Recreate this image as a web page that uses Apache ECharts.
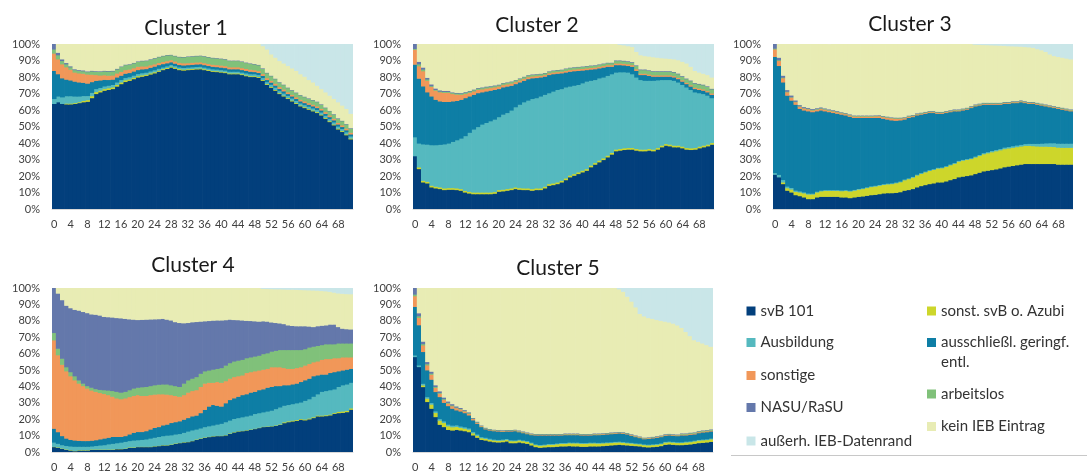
<!DOCTYPE html>
<html><head><meta charset="utf-8">
<script src="https://cdn.jsdelivr.net/npm/echarts@6/dist/echarts.min.js"></script>
<style>html,body{margin:0;padding:0;background:#fff}#c{width:1087px;height:475px}</style>
</head><body><div id="c"></div>
<script>
// ---- categories (months) and tick labels ----
const months = [0,1,2,3,4,5,6,7,8,9,10,11,12,13,14,15,16,17,18,19,20,21,22,23,24,25,26,27,28,29,30,31,32,33,34,35,
  36,37,38,39,40,41,42,43,44,45,46,47,48,49,50,51,52,53,54,55,56,57,58,59,60,61,62,63,64,65,66,67,68,69,70,71];
const yTicks = [0,10,20,30,40,50,60,70,80,90,100];
const clusterTitles = ['Cluster 1','Cluster 2','Cluster 3','Cluster 4','Cluster 5'];
const seriesNames = ['svB 101','sonst. svB o. Azubi','Ausbildung','ausschließl. geringf. entl.','sonstige','arbeitslos','NASU/RaSU','kein IEB Eintrag','außerh. IEB-Datenrand'];

// ---- Cluster 1 (shares in %) ----
const c1_svB = [64,65,64,63.7,63.7,64,64.5,65, 65.3,67.5,70,71,72,72.5,73,74.5, 76,77.3,78,79,80,80.5,81,81.8, 82.5,83.5,84.5,85.2,86,85.3,84.5,84.2,
  84.5,84.7,84.9,85,84.5,84,83.5,83.3, 83,82.7,82,82,82,81.5,80.8,80.3, 80.3,79.8,78,75.5,73.8,72,70,68.5, 67,65.5,64,62.5,61.5,60.5,59.5,58.5, 57,55,53,51,48.5,47,45,42.5];
const c1_sonst = [0,0,0,0.5,0.5,0.5,0.5,0.8, 1,1.2,1.2,1,1,1,1,1, 1,1,0.8,0.8,0.8,0.8,0.7,0.7, 0.7,0.6,0.6,0.6,0.6,0.6,0.6,0.6,
  0.5,0.5,0.5,0.5,0.5,0.5,0.5,0.5, 0.5,0.5,0.5,0.5,0.5,0.5,0.5,0.5, 0.5,0.5,0.5,0.5,0.5,0.5,0.5,0.5, 0.5,0.5,0.5,0.5,0.5,0.5,0.5,0.5, 0.5,0.5,0.5,0.5,0.5,0.5,0.5,0.5];
const c1_ausb = [3,3.5,4,4.5,4.5,4,3.5,3, 2.5,2,1.8,1.7,1.6,1.5,1.5,1.5, 1.5,1.4,1.4,1.3,1.3,1.3,1.2,1.2, 1.2,1.2,1,1,1,1,1,1,
  1,1,1,1,1,1,1,1, 1,1,1,1,1,1,1.2,1.2, 1.2,1.2,1.2,1.2,1.3,1.3,1.3,1.3, 1.3,1.3,1.3,1.3,1.3,1.3,1.3,1.3, 1.3,1.3,1.3,1.3,1.3,1.3,1.3,1.3];
const c1_ausschl = [17,13.5,11.5,10,9.5,9,8.5,8, 7.5,6.5,5,4.5,4,3.5,3.2,3, 2.6,2.6,2.5,2.5,2.4,2.3,2.2,2.2, 2.2,2.2,2,1.8,1.6,1.5,1.5,1.5,
  1.5,1.5,1.5,1.5,1.5,1.5,1.5,1.5, 1.5,1.5,1.5,1.5,1.5,1.5,1.5,1.5, 1.3,1.3,1.3,1.3,1.3,1.3,1.3,1.3, 1.2,1.2,1.2,1.2,1.2,1.2,1.2,1.2, 1.2,1.2,1.2,1.2,1.2,1.2,1.2,1.2];
const c1_sonstige = [10.5,9,8.5,7.5,6.5,5.5,5.5,5.5, 5.5,4.5,3.5,3,2.8,2.6,2.5,2.4, 2.3,2.2,2.1,2,2,1.8,1.6,1.5, 1.4,1.3,1.3,1.3,1.3,1.3,1.3,1.3,
  1.2,1.2,1.2,1.2,1.2,1.2,1.2,1.2, 1.2,1.2,1.2,1.2,1.2,1.2,1.2,1.2, 1.1,1.1,1.1,1.1,1.1,1.1,1.1,1.1, 1,1,1,1,1,1,1,1, 1,1,1,1,1,1,1,1];
const c1_arbeitslos = [2.5,2.5,2,1.8,1.5,1.5,1.5,1.5, 1.5,2,2,2.2,2.3,2.5,2.5,2.5, 3,3,3,3,3,3.2,3.3,3.4, 3.5,3.5,3.5,3.5,3,3.2,3.4,3.6,
  3.8,3.8,3.8,3.8,4,4,4,4, 4,4,3.8,3.8,3.8,3.8,3.6,3.6, 3.5,3.5,3.2,3,2.8,2.8,2.7,2.7, 2.6,2.6,2.6,2.6,2.6,2.6,2.6,2.6, 2.5,2.5,2.5,2.5,2.5,2.5,2.5,2.5];
const c1_nasu = [3,1.5,1,0.8,0.6,0.5,0.5,0.5, 0.4,0.4,0.4,0.4,0.4,0.4,0.4,0.4, 0.3,0.3,0.3,0.3,0.3,0.3,0.3,0.3, 0.3,0.3,0.3,0.3,0.3,0.3,0.3,0.3,
  0.3,0.3,0.3,0.3,0.3,0.3,0.3,0.3, 0.3,0.3,0.3,0.3,0.3,0.3,0.3,0.3, 0.3,0.3,0.3,0.3,0.3,0.3,0.3,0.3, 0.3,0.3,0.3,0.3,0.3,0.3,0.3,0.3, 0.3,0.3,0.3,0.3,0.3,0.3,0.3,0.3];
const c1_kein = [0,5,9,11.2,13.2,15,15.5,15.7, 16.3,15.9,16.1,16.2,15.9,16,15.9,14.7, 13.3,12.2,11.9,11.1,10.2,9.8,9.7,8.9, 8.2,7.4,6.8,6.3,6.2,6.8,7.4,7.5,
  7.2,7,6.8,6.7,7,7.5,8,8.2, 8.5,8.8,9.7,9.7,9.7,10.2,10.9,11.4, 11.8,12.3,13.4,14.1,12.9,12.7,12.8,12.8, 13.1,13.1,13.1,12.6,12.1,11.1,10.6,9.6, 9.2,9.2,9.2,9.2,9.7,9.2,9.2,8.7];
const c1_ausserh = [0,0,0,0,0,0,0,0, 0,0,0,0,0,0,0,0, 0,0,0,0,0,0,0,0, 0,0,0,0,0,0,0,0,
  0,0,0,0,0,0,0,0, 0,0,0,0,0,0,0,0, 0,0,1,3,6,8,10,11.5, 13,14.5,16,18,19.5,21.5,23,25, 27,29,31,33,35,37,39,42];

// ---- Cluster 2 ----
const c2_svB = [32.3,24.5,16.4,15.8,13.4,12.8,12.4,11.8, 12,12,11.8,11.4,10.3,9.7,9.3,9.3, 9.3,9.3,9.3,9.6,10.8,11,11.4,11.8, 12.4,12,11.8,11.8,11.4,11.8,11.8,12.8,
  14.4,14.8,15.4,16.4,17.8,19.5,20.5,21.5, 22.5,23.5,25.6,27.2,28.6,30,31.6,33.3, 35.3,35.7,36.1,36.3,36.3,35.7,35.3,35.3, 35.7,35.3,36.3,37.7,38.7,38.3,37.7,37.7, 37.1,36.3,36.1,36.3,37.1,37.7,38.3,39.3];
const c2_sonst = [0,1,1,1,1,1,1,1, 1,1,1,1,1,1,1,1, 1,1,1,1,1,1,1,1, 1,1,1,1,1,1,1,1,
  1,1,1,1,1,1,1,1, 1,1,1,1,1,1,1,1, 1,1,1,1,1,1,1,1, 1,1,1,1,1,1,1,1, 1,1,1,1,1,1,1,1];
const c2_ausb = [11.5,14.5,22.1,22.5,24.6,25.2,25.8,26.7, 27,28,29.2,30.6,33.2,35.8,38.2,39.7, 41.2,42.2,43.2,43.9,44.2,45.5,46.1,47.2, 48.6,50.5,52.2,53.2,54.6,54.7,55.7,55.7,
  55.1,55.7,56.1,55.6,55.2,54,53.5,53, 53,53,51.4,50.3,49.9,49,48.4,47.7, 46.7,46.5,46.1,45.7,44.7,43.3,42.2,41.7, 41.3,41.7,41,39.8,38.8,39.2,39.3,38.3, 37.4,36.7,35.4,33.7,32.4,31.3,29.7,27.2];
const c2_ausschl = [44,39.3,35.1,31.7,29.5,27.5,26.3,25.7, 25.2,24.5,23.8,23.5,23,22,21,20.5, 19.5,19,18.5,18,17,16.5,16,15, 14,13.5,13,13,12.5,12.2,11.5,11,
  11,10.5,9.8,9.5,9,9,8.8,8.5, 7.7,7,6.8,6.5,6,6,5.5,4.5, 4.5,4.3,4.1,4,4.5,4,3,3.5, 3,2.5,2.2,2,2,2,2,2, 2,2,2,2,2,2,2,2];
const c2_sonstige = [9,7.5,9.2,7,5.8,5.5,5.5,5.5, 5.5,4.5,3.8,3,2.5,2.2,2,2, 1.8,1.8,1.6,1.5,1.5,1.4,1.3,1.3, 1.2,1.2,1.2,1.2,1.1,1.1,1,1,
  1,1,1,1,1,1,1,1, 1,1,1,1,1,1,1,1, 1,1,1,1,1,1,0.8,0.8, 0.8,0.8,0.8,0.8,0.8,0.8,0.8,0.8, 0.8,0.8,0.8,0.8,0.8,0.8,0.8,0.8];
const c2_arbeitslos = [0.5,1.2,1,0.8,0.5,0.5,0.5,0.6, 0.6,0.6,0.7,0.7,0.8,0.8,0.8,0.8, 0.8,0.8,0.8,0.8,0.8,1,1,1, 1,1,1,1,1,1,1,1,
  1,1,1,1,1.2,1.2,1.2,1.2, 1.2,1.2,1.2,1.2,1.2,1.2,1.2,1.2, 1.5,1.5,1.5,1.5,1.5,2,2.2,2.2, 2.2,2.2,2.2,2.2,2.2,2.2,2.2,2.2, 2.2,2.2,2.5,2.5,2.5,2.5,2.5,2.5];
const c2_nasu = [2.7,1.5,1.2,1,1,0.8,0.7,0.6, 0.6,0.4,0.4,0.4,0.4,0.4,0.4,0.4, 0.4,0.4,0.4,0.4,0.4,0.3,0.3,0.3, 0.3,0.3,0.3,0.3,0.3,0.3,0.3,0.3,
  0.3,0.3,0.3,0.3,0.3,0.3,0.3,0.3, 0.3,0.3,0.3,0.3,0.3,0.3,0.3,0.3, 0.4,0.4,0.4,0.4,0.4,0.4,0.4,0.4, 0.4,0.4,0.4,0.4,0.4,0.4,0.4,0.4, 0.4,0.4,0.4,0.4,0.4,0.4,0.4,0.4];
const c2_kein = [0,10.5,14,20.2,24.2,26.7,27.8,28.1, 28.1,29,29.3,29.4,28.8,28.1,27.3,26.3, 26,25.5,25.2,24.8,24.3,23.3,22.9,22.4, 21.5,20.5,19.5,18.5,18.1,17.9,17.7,17.2,
  16.2,15.7,15.4,15.2,14.5,14,13.7,13.5, 13.3,13,12.7,12.5,12,11.5,11,11, 9.6,9.4,9.3,9.1,9.1,8.1,8.6,8.1, 8.3,8.4,8.1,7.8,7.6,7.4,7.6,8.1, 8.6,9.1,8.3,7.3,6.8,6.6,6.8,6.8];
const c2_ausserh = [0,0,0,0,0,0,0,0, 0,0,0,0,0,0,0,0, 0,0,0,0,0,0,0,0, 0,0,0,0,0,0,0,0,
  0,0,0,0,0,0,0,0, 0,0,0,0,0,0,0,0, 0,0.2,0.5,1,1.5,4.5,6.5,7, 7.3,7.7,8,8.3,8.5,8.7,9,9.5, 10.5,11.5,13.5,16,17,17.7,18.5,20];

// ---- Cluster 3 ----
const c3_svB = [21.1,19.5,15.4,11.4,10.3,8.7,8.1,7.3, 6.3,6.3,7.3,7.7,7.7,7.7,7.7,7.7, 7.3,7.3,6.9,7.3,7.7,7.9,8.3,8.7, 8.9,9.3,9.7,9.9,9.9,10.1,10.5,11.4,
  11.8,12.4,13.4,14.2,14.8,15.4,15.8,16.4, 16.4,17,17.8,18.5,19.5,19.9,20.3,20.7, 21.5,22.3,23.1,23.5,23.9,24.3,24.9,25.6, 26,26.4,26.8,27.2,27.6,27.6,27.6,27.6, 27.6,27.6,27.6,27.6,27.2,27.2,27.2,27.2];
const c3_sonst = [0,0,1,1.5,1.8,2,2.2,2.5, 2.8,2.8,3,3.3,3.6,3.6,3.6,3.6, 3.8,4,4,4.1,4.3,4.5,4.7,4.9, 5,5.1,5.2,5.3,5.5,5.8,6,6.3,
  6.6,6.9,7.2,7.4,7.7,8,8.2,8.4, 8.6,8.8,9,9.2,9.5,9.7,9.8,9.9, 10,10.2,10.4,10.6,10.8,11,11,11, 11,11,11,11,11,11,10.8,10.6, 10.5,10.5,10.4,10.3,10.3,10.2,10.2,10.2];
const c3_ausb = [1,1.5,1.5,1,1,0.8,0.7,0.6, 0.6,0.5,0.5,0.5,0.5,0.5,0.5,0.5, 0.5,0.5,0.5,0.5,0.5,0.5,0.5,0.5, 0.5,0.5,0.5,0.5,0.5,0.5,0.5,0.5,
  0.5,0.5,0.5,0.5,0.5,0.5,0.5,0.5, 0.5,0.5,0.5,0.5,0.5,0.5,0.5,0.5, 0.6,0.6,0.7,0.7,0.8,0.8,0.8,0.9, 0.9,1,1,1,1.1,1.2,1.4,1.6, 1.8,2,2.2,2.3,2.4,2.5,2.5,2.5];
const c3_ausschl = [70.4,66,59.1,55.1,52.9,52,50,49.6, 49.8,49.4,48.7,48.5,47.7,47.2,46.7,46.2, 45.9,45.2,44.8,43.6,43,42.6,42,41.4, 41.1,40.6,39.6,38.8,38.1,37.4,37,36.3,
  36.6,36.2,35.9,35.4,35,34.6,34,32.7, 32.5,32.2,31.7,31.3,30,29.9,29.9,30.4, 30.4,29.9,29.3,28.7,28,27.4,26.8,26.5, 26.1,26.1,25.7,25.8,24.8,24.2,24.2,23.7, 23.1,22.4,21.8,21.3,21.1,20.6,20.1,19.6];
const c3_sonstige = [4.5,3,2.5,2,1.8,1.5,1.3,1.2, 1.2,1,1,1,1,0.9,0.9,0.9, 0.8,0.8,0.8,0.8,0.8,0.8,0.8,0.8, 0.9,1,1,1.1,1.2,1.2,1,0.8,
  0.7,0.6,0.6,0.5,0.5,0.5,0.5,0.5, 0.5,0.5,0.5,0.5,0.5,0.5,0.5,0.5, 0.5,0.5,0.5,0.5,0.5,0.5,0.5,0.5, 0.5,0.5,0.5,0.5,0.5,0.5,0.5,0.5, 0.5,0.5,0.5,0.5,0.5,0.5,0.5,0.5];
const c3_arbeitslos = [0.5,0.5,0.4,0.4,0.3,0.3,0.3,0.3, 0.4,0.4,0.4,0.4,0.4,0.4,0.4,0.4, 0.4,0.4,0.4,0.4,0.4,0.4,0.4,0.4, 0.4,0.4,0.4,0.4,0.4,0.4,0.4,0.4,
  0.4,0.4,0.4,0.4,0.4,0.4,0.4,0.4, 0.4,0.4,0.4,0.4,0.4,0.4,0.4,0.4, 0.4,0.4,0.4,0.4,0.4,0.4,0.4,0.4, 0.4,0.4,0.4,0.4,0.4,0.4,0.4,0.4, 0.4,0.4,0.4,0.4,0.4,0.4,0.4,0.4];
const c3_nasu = [2.5,1.5,1.2,1,1,0.8,0.7,0.6, 0.5,0.5,0.5,0.5,0.4,0.4,0.4,0.4, 0.3,0.3,0.3,0.3,0.3,0.3,0.3,0.3, 0.3,0.3,0.3,0.3,0.3,0.3,0.3,0.3,
  0.3,0.3,0.3,0.3,0.3,0.3,0.3,0.3, 0.3,0.3,0.3,0.3,0.3,0.3,0.3,0.3, 0.3,0.3,0.3,0.3,0.3,0.3,0.3,0.3, 0.3,0.3,0.3,0.3,0.3,0.3,0.3,0.3, 0.3,0.3,0.3,0.3,0.3,0.3,0.3,0.3];
const c3_kein = [0,8,18.9,27.6,30.9,33.9,36.7,37.9, 38.4,39.1,38.6,38.1,38.7,39.2,39.8,40.3, 41,41.5,42.3,43,43,43,43,43, 42.9,42.8,43.3,43.7,44.1,44.3,44.3,44,
  43.1,42.7,41.7,41.3,40.8,40.3,40.3,40.8, 40.8,40.3,39.8,39.3,39.3,38.8,38.3,37.3, 36.2,35.6,35,34.9,34.8,34.7,34.6,34, 33.8,33.2,33.1,32.5,32.8,33.1,32.8,32.5, 32.3,31.8,30.8,30.3,30.3,30.3,30.3,30.3];
const c3_ausserh = [0,0,0,0,0,0,0,0, 0,0,0,0,0,0,0,0, 0,0,0,0,0,0,0,0, 0,0,0,0,0,0,0,0,
  0,0,0,0,0,0,0,0, 0,0,0,0,0,0,0,0, 0.1,0.2,0.3,0.4,0.5,0.6,0.7,0.8, 1,1.1,1.2,1.3,1.5,1.7,2,2.8, 3.5,4.5,6,7,7.5,8,8.5,9];

// ---- Cluster 4 ----
const c4_svB = [3.3,2.9,2.2,1.6,1.2,0.8,1.2,1.2, 1.2,1.6,1.6,1.6,1.6,1.6,1.6,2, 2,2.2,2.9,2.9,3.3,3.3,3.3,3.3, 3.7,3.9,4.3,4.3,4.7,5.3,5.7,6.1,
  6.3,6.9,7.7,8.4,9,9.4,9.8,10, 10,10.4,11.4,12.2,12.8,13,13.4,13.8, 14.3,14.9,15.5,15.7,15.9,16.3,16.9,17.9, 18.5,18.9,19.3,20,19.6,20.2,21,22, 22,22.2,22.6,23.6,24,24.2,24.6,26.1];
const c4_sonst = [0.2,0.2,0.2,0.2,0.2,0.2,0.2,0.2, 0.2,0.2,0.2,0.2,0.2,0.2,0.2,0.2, 0.2,0.2,0.2,0.2,0.2,0.2,0.2,0.2, 0.2,0.2,0.2,0.2,0.2,0.2,0.2,0.2,
  0.2,0.2,0.2,0.2,0.2,0.2,0.2,0.2, 0.2,0.2,0.2,0.2,0.2,0.2,0.2,0.2, 0.2,0.2,0.2,0.2,0.2,0.2,0.2,0.5, 0.5,0.5,0.5,0.5,0.5,0.5,0.5,0.5, 0.5,0.5,0.5,0.5,0.8,0.8,0.8,0.8];
const c4_ausb = [2.6,2.2,2.1,2.2,2.3,2.5,2.1,2.1, 2.1,1.9,2.2,2.5,2.7,3.2,3.5,3.5, 3.8,4.1,3.9,4.2,4,4.2,4.5,5, 5.1,5.4,5.5,5.8,5.6,5.5,5.4,5.7,
  6.3,6.4,6.1,6.1,6.3,6.4,6.5,6.8, 7.3,7.9,7.9,8.1,8,8.3,8.4,8.5, 9,8.9,8.8,9.1,9.4,10,10.4,10.1, 10,10.1,10.2,10,11.4,11.8,12.5,13, 14.5,14.8,14.9,14.4,15.2,16,16.1,15.6];
const c4_ausschl = [8.4,7.1,5.5,4.5,4,3.8,3.6,3.5, 3.5,3.5,3.5,3.7,4,4,4.2,3.8, 3.5,3.5,4,4.7,5,4.8,5,5.5, 6,6,6.5,6.7,7.5,7.5,7.7,8,
  8.2,8.5,8.5,9.3,10.5,12,12.5,11.5, 10.5,11.5,12.5,12.5,13,13.5,13.5,14, 13.5,14,14,14.5,14.5,14,13,12.5, 12,12,12,12.5,12.5,12.5,12.5,11.5, 10.5,10,10.5,10.5,9.5,9,9,8.5];
const c4_sonstige = [53.9,46.9,43.5,41,38.8,36.7,34.9,33.5, 32,30.6,29.5,28.3,27.2,26,24.5,23.5, 23,23,22.8,22.5,22.5,22,21.5,21, 20.3,20,19,18.3,17,16,15,15,
  15.5,15.5,15.5,16,16,14.5,13.5,14.5, 14.5,13.5,13,13,12.5,12,13,12.5, 12.5,12,12,11.5,12,11.5,11.5,10.5, 10,9.5,9.5,9,9,9,8.5,8.5, 9,9.5,8.5,8.5,8,8,7.5,7];
const c4_arbeitslos = [4.5,4,3.7,2.5,2.5,2.5,2,1.5, 1.5,1.7,1.7,1.9,2.3,2.8,3.5,4, 4,4,4.2,4.5,4.5,5.3,5.5,5.5, 5.7,5.8,6,6.2,6,6,6,7,
  7.5,7.5,8,8,7.5,7.5,8,8, 9,9.5,9.5,9.5,9.5,9.5,9,9, 9,9,9.5,9.5,9.5,10,10.5,11, 11.5,11.5,11,10.5,10,10,9.5,9.5, 9,9,9,8.5,9,8.5,8.5,8.5];
const c4_nasu = [27.1,33.6,35.7,37.5,39,40.5,42.5,43.7, 44.5,44.7,45.3,45.3,44.7,44.7,44.8,45, 45.3,44.5,43.2,42,41.3,41.1,41,40.6, 40.2,40,40,39.5,39.5,39,39,36.8,
  35,34.4,33.6,31.8,30.5,30.2,29.9,29.5, 29,27.7,26.5,25.3,24.7,24,22.8,22.2, 21.5,20.8,20,19.3,17.8,17,16.2,15.8, 15,14.7,14.5,14.5,14,12.8,12,12, 11.8,11.5,12,12,10,9,8.7,8.5];
const c4_kein = [0,3.1,7.1,10.5,12,13,13.5,14.3, 15,15.8,16,16.5,17.3,17.5,17.7,18, 18.2,18.5,18.8,19,19.2,19.1,19,18.9, 18.8,18.7,18.5,19,19.5,20.5,21,21.2,
  21,20.6,20.4,20.2,20,19.8,19.6,19.5, 19.5,19.3,19,19.2,19.3,19.5,19.7,19.8, 20,20.2,19.8,19.9,20.3,20.5,20.8,21.1, 21.8,22.1,22.2,22.1,22,22.1,22.3,21.7, 21.2,20.8,20,19.5,20.5,21.3,21.4,21.5];
const c4_ausserh = [0,0,0,0,0,0,0,0, 0,0,0,0,0,0,0,0, 0,0,0,0,0,0,0,0, 0,0,0,0,0,0,0,0,
  0,0,0,0,0,0,0,0, 0,0,0,0,0,0,0,0, 0,0,0.2,0.3,0.4,0.5,0.5,0.6, 0.7,0.7,0.8,0.9,1,1.1,1.2,1.3, 1.5,1.7,2,2.5,3,3.2,3.4,3.5];

// ---- Cluster 5 ----
const c5_svB = [58.2,52.1,39.9,30.8,26.7,21.6,16.9,15.5, 13.8,13.4,13.8,13.4,13,12.4,10.4,9, 7.7,7.3,6.7,6.3,6.1,6.3,6.7,5.7, 5.7,6.1,5.7,5.3,4.3,3.3,2.9,3.1,
  3.3,3.3,3.5,3.7,3.7,3.9,3.7,3.7, 3.5,3.5,3.7,3.7,3.7,3.9,4.1,4.3, 4.5,4.7,4.5,4.3,4.1,3.9,3.7,3.3, 3.1,3.3,3.5,3.9,4.7,4.9,4.7,4.5, 4.5,4.7,4.9,5.3,5.7,5.9,6.1,6.5];
const c5_sonst = [0,0,1,2,2.5,2.5,2.5,2.5, 2.2,2,1.8,1.6,1.5,1.5,1.3,1.2, 1,1,1,1,1,1,1,1.2, 1.2,1.2,1.2,1.2,1.2,1.2,1.2,1.2,
  1.4,1.4,1.5,1.6,1.6,1.7,1.8,1.8, 1.8,1.8,1.8,1.8,1.7,1.6,1.6,1.5, 1.5,1.4,1.4,1.3,1.3,1.2,1.2,1.2, 1.2,1.2,1.2,1.2,1.3,1.3,1.3,1.3, 1.3,1.4,1.4,1.4,1.5,1.5,1.5,1.5];
const c5_ausb = [1,1,1,1,1,1,1,1, 1,1,1,0.9,0.9,0.8,0.8,0.8, 0.7,0.7,0.7,0.6,0.6,0.6,0.6,0.6, 0.5,0.5,0.5,0.5,0.5,0.5,0.5,0.5,
  0.5,0.5,0.5,0.5,0.5,0.5,0.5,0.5, 0.5,0.5,0.5,0.5,0.5,0.5,0.5,0.5, 0.5,0.5,0.5,0.5,0.5,0.5,0.5,0.5, 0.5,0.5,0.5,0.5,0.5,0.5,0.5,0.5, 0.5,0.5,0.5,0.5,0.5,0.5,0.5,0.5];
const c5_ausschl = [29.6,24.5,19.4,16.3,14.2,11.8,13.4,11.3, 11.3,10.3,9.1,9.1,8.6,7.9,7.1,6.5, 6.1,5.1,5,5.1,5.1,4.7,4.5,5.3, 5.6,4.6,4.4,4.2,4.6,5.4,5.8,5.6,
  5.2,5.2,4.9,4.6,4.8,4.5,4.6,4.6, 4.6,4.6,4.4,4.6,4.7,4.8,4.8,4.9, 4.9,5,5,4.9,4.3,3.8,3.4,3.1, 3.5,3.6,3.8,3.8,3.7,3.7,3.7,3.7, 4.1,3.8,4,3.8,4.1,4.3,4.3,4.3];
const c5_sonstige = [6.5,4.5,4,3,3,2.5,2,1.8, 1.5,1.5,1.3,1.2,1,1,0.8,0.6, 0.5,0.4,0.4,0.4,0.4,0.4,0.4,0.4, 0.4,0.4,0.4,0.4,0.4,0.4,0.4,0.4,
  0.4,0.4,0.4,0.4,0.4,0.4,0.4,0.4, 0.4,0.4,0.4,0.4,0.4,0.4,0.4,0.4, 0.4,0.4,0.4,0.4,0.4,0.4,0.4,0.4, 0.4,0.4,0.4,0.4,0.4,0.4,0.4,0.4, 0.5,0.5,0.5,0.5,0.5,0.5,0.5,0.5];
const c5_arbeitslos = [1,1,0.8,0.8,0.7,0.6,0.5,0.5, 0.5,0.5,0.4,0.4,0.4,0.4,0.3,0.3, 0.3,0.3,0.3,0.3,0.3,0.3,0.3,0.3, 0.3,0.3,0.3,0.3,0.3,0.3,0.3,0.3,
  0.3,0.3,0.3,0.3,0.3,0.3,0.3,0.3, 0.3,0.3,0.3,0.3,0.3,0.3,0.3,0.3, 0.3,0.3,0.3,0.3,0.3,0.3,0.3,0.3, 0.3,0.3,0.3,0.3,0.3,0.3,0.3,0.3, 0.5,0.5,0.5,0.5,0.5,0.5,0.5,0.5];
const c5_nasu = [3.7,1.8,1.5,1.3,1.2,1,1,0.9, 0.8,0.8,0.7,0.6,0.5,0.5,0.4,0.4, 0.3,0.3,0.3,0.3,0.3,0.3,0.3,0.3, 0.3,0.3,0.3,0.3,0.3,0.3,0.3,0.3,
  0.3,0.3,0.3,0.3,0.3,0.3,0.3,0.3, 0.3,0.3,0.3,0.3,0.3,0.3,0.3,0.3, 0.3,0.3,0.3,0.3,0.3,0.3,0.3,0.3, 0.3,0.3,0.3,0.3,0.3,0.3,0.3,0.3, 0.3,0.3,0.3,0.3,0.3,0.3,0.3,0.3];
const c5_kein = [0,15.1,32.4,44.8,50.7,59,62.7,66.5, 68.9,70.5,71.9,72.8,74.1,75.5,78.9,81.2, 83.4,84.9,85.6,86,86.2,86.4,86.2,86.2, 86,86.6,87.2,87.8,88.4,88.6,88.6,88.6,
  88.6,88.6,88.6,88.6,88.4,88.4,88.4,88.4, 88.6,88.6,88.6,88.4,88.4,88.2,88,87.8, 87.6,86.9,85.6,83,80.8,78.1,74.7,73.9, 72.7,71.9,70.8,69.9,68.6,67.9,67.4,66.5, 64.3,61.8,58.9,56.2,54.4,53,51.8,50.4];
const c5_ausserh = [0,0,0,0,0,0,0,0, 0,0,0,0,0,0,0,0, 0,0,0,0,0,0,0,0, 0,0,0,0,0,0,0,0,
  0,0,0,0,0,0,0,0, 0,0,0,0,0,0,0,0, 0,0.5,2,5,8,11.5,15.5,17, 18,18.5,19.2,19.7,20.2,20.7,21.4,22.5, 24,26.5,29,31.5,32.5,33.5,34.5,35.5];

// ---- assembly ----
const clusterData = [
  [c1_svB,c1_sonst,c1_ausb,c1_ausschl,c1_sonstige,c1_arbeitslos,c1_nasu,c1_kein,c1_ausserh],
  [c2_svB,c2_sonst,c2_ausb,c2_ausschl,c2_sonstige,c2_arbeitslos,c2_nasu,c2_kein,c2_ausserh],
  [c3_svB,c3_sonst,c3_ausb,c3_ausschl,c3_sonstige,c3_arbeitslos,c3_nasu,c3_kein,c3_ausserh],
  [c4_svB,c4_sonst,c4_ausb,c4_ausschl,c4_sonstige,c4_arbeitslos,c4_nasu,c4_kein,c4_ausserh],
  [c5_svB,c5_sonst,c5_ausb,c5_ausschl,c5_sonstige,c5_arbeitslos,c5_nasu,c5_kein,c5_ausserh]
];
const colors = ['#023f7c','#cdd62b','#55b9bf','#0e7ea5','#f19759','#80c17a','#6478ab','#e8ecb4','#c9e6e8'];

const FONT = 'Lato';
const grids = [
  {left:52, top:44, width:301, height:165},
  {left:413, top:44, width:301, height:165},
  {left:773, top:44, width:300, height:165},
  {left:52, top:288, width:301, height:164},
  {left:413, top:288, width:300, height:164}
];
const titlePos = [[181,13],[532,10],[905,9],[188,250],[553,253]];

// stacked columns drawn as custom rects (slightly widened so neighbouring columns join seamlessly)
function makeRender(color) {
  return function (params, api) {
    const lo = api.value(1), hi = api.value(2);
    if (!(hi > lo)) return null;
    const pLo = api.coord([api.value(0), lo]);
    const pHi = api.coord([api.value(0), hi]);
    const w = api.size([1, 0])[0];
    return {
      type:'rect',
      shape:{x: pLo[0] - w/2 - 0.35, y: pHi[1], width: w + 0.7, height: (pLo[1] - pHi[1]) + 0.6},
      style:{fill: color}
    };
  };
}

const series = [];
clusterData.forEach((arrs, ci) => {
  const base = months.map(() => 0);
  arrs.forEach((arr, si) => {
    const rows = months.map((m, i) => [i, base[i], base[i] + arr[i]]);
    months.forEach((m, i) => { base[i] += arr[i]; });
    series.push({
      type:'custom', name: seriesNames[si], xAxisIndex: ci, yAxisIndex: ci,
      data: rows, encode:{x:0, y:[1,2]}, clip:true,
      renderItem: makeRender(colors[si]),
      itemStyle:{color: colors[si]}, silent:true
    });
  });
});

const legendLayout = [
  {name:'svB 101', left:746.5, cy:311},
  {name:'Ausbildung', left:746.5, cy:342.5},
  {name:'sonstige', left:746.5, cy:375.5},
  {name:'NASU/RaSU', left:746.5, cy:407.5},
  {name:'außerh. IEB-Datenrand', left:746.5, cy:441},
  {name:'sonst. svB o. Azubi', left:927, cy:311},
  {name:'ausschließl. geringf. entl.', left:927, cy:342.5, wrap:true},
  {name:'arbeitslos', left:927, cy:394},
  {name:'kein IEB Eintrag', left:927, cy:426.5}
];
const legends = legendLayout.map(l => {
  const b = {
    data:[l.name], left:l.left, padding:0, selectedMode:false,
    itemWidth:9, itemHeight:9, icon:'rect', itemStyle:{borderWidth:0},
    textStyle:{fontFamily:FONT, fontSize:15, color:'#333', lineHeight:18}
  };
  if (l.wrap) {
    b.itemHeight = 29;
    b.icon = 'path://M0,0L9,0L9,9L0,9Z M0,29L9,29';
    b.formatter = () => 'ausschließl. geringf.\nentl.';
    b.textStyle.lineHeight = 20;
    b.top = l.cy - 4.5 - 5.5;
  } else {
    b.top = l.cy - 9;
  }
  return b;
});

const option = {
  animation:false,
  textStyle:{fontFamily:FONT},
  title: clusterTitles.map((t,i) => ({
    text:t, left:titlePos[i][0], top:titlePos[i][1], textAlign:'center',
    textStyle:{fontFamily:FONT, fontSize:21, fontWeight:'normal', color:'#1a1a1a'}
  })),
  grid: grids,
  xAxis: grids.map((g,i) => ({
    type:'category', gridIndex:i, data:months,
    axisTick:{show:false},
    axisLine:{lineStyle:{color:'#d9d9d9'}},
    axisLabel:{interval:3, fontSize:11, color:'#404040', margin:10, fontFamily:FONT}
  })),
  yAxis: grids.map((g,i) => ({
    type:'value', gridIndex:i, min:yTicks[0], max:yTicks[yTicks.length-1], interval:10,
    axisLine:{show:false},
    axisTick:{show:false}, splitLine:{show:true, lineStyle:{color:'#e3e3e3'}},
    axisLabel:{formatter:'{value}%', fontSize:11, color:'#404040', margin:12, fontFamily:FONT}
  })),
  legend: legends,
  graphic: [
    {type:'line', shape:{x1:731, y1:455.5, x2:1087, y2:455.5}, style:{stroke:'#c8c8c8', lineWidth:1}, silent:true}
  ],
  series: series
};

const chart = echarts.init(document.getElementById('c'));
chart.setOption(option);
</script>
</body></html>
